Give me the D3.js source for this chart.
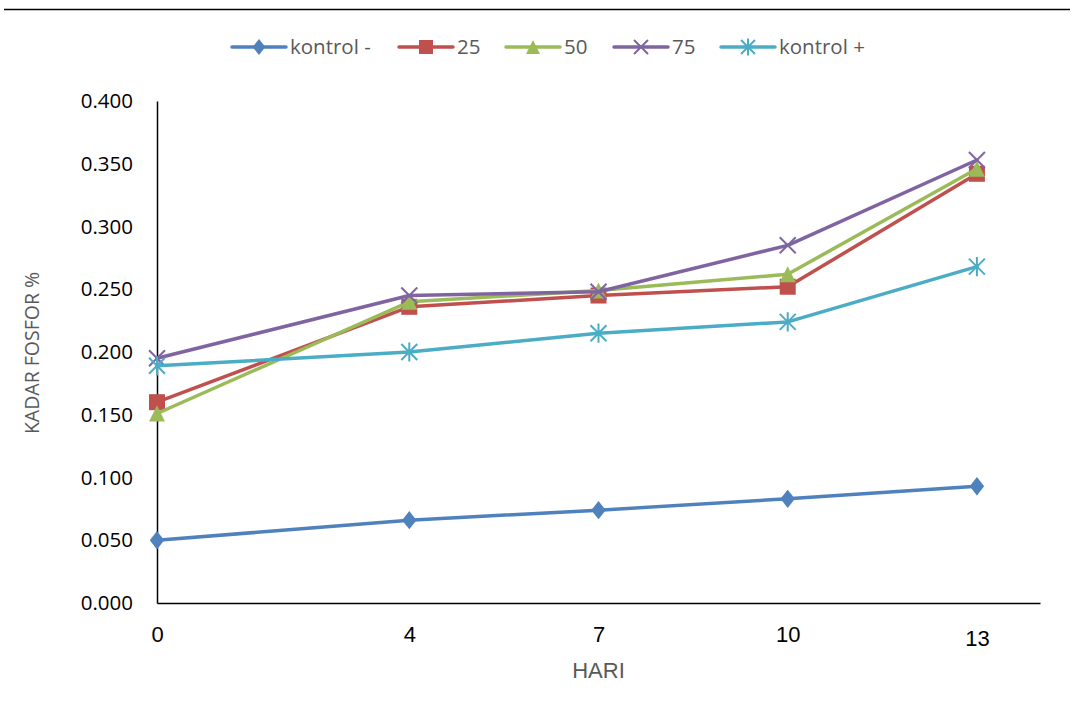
<!DOCTYPE html>
<html>
<head>
<meta charset="utf-8">
<script src="https://cdn.jsdelivr.net/npm/d3@7"></script>
<style>
  html, body { margin: 0; padding: 0; background: #fff; }
  svg { display: block; }
</style>
</head>
<body>
<svg id="chart" width="1073" height="715"></svg>
<script>
// Phosphorus content (%) over days, per treatment
const days = [0, 4, 7, 10, 13];
const kontrolMinus = [0.050, 0.066, 0.074, 0.083, 0.093];
const dose25 = [0.160, 0.236, 0.245, 0.252, 0.342];
const dose50 = [0.151, 0.240, 0.249, 0.262, 0.346];
const dose75 = [0.195, 0.245, 0.248, 0.285, 0.353];
const kontrolPlus = [0.189, 0.200, 0.215, 0.224, 0.268];
const seriesNames = ["kontrol -", "25", "50", "75", "kontrol +"];
const yTicks = [0, 0.05, 0.1, 0.15, 0.2, 0.25, 0.3, 0.35, 0.4];

const series = [
  { name: seriesNames[0], values: kontrolMinus, color: "#4F81BD", marker: "diamond" },
  { name: seriesNames[1], values: dose25, color: "#C0504D", marker: "square" },
  { name: seriesNames[2], values: dose50, color: "#9BBB59", marker: "triangle" },
  { name: seriesNames[3], values: dose75, color: "#8064A2", marker: "x" },
  { name: seriesNames[4], values: kontrolPlus, color: "#4BACC6", marker: "star" }
];

const svg = d3.select("#chart");

// rule across the top of the page
svg.append("line")
  .attr("x1", 4).attr("x2", 1070).attr("y1", 9.5).attr("y2", 9.5)
  .attr("stroke", "#000").attr("stroke-width", 1.5);

const x = d3.scaleLinear().domain([0, 14]).range([157, 1040]);
const y = d3.scaleLinear().domain([0, 0.4]).range([603, 101]);

// axes
const yAxis = svg.append("g")
  .attr("transform", `translate(${x(0)},0)`)
  .call(d3.axisLeft(y).tickValues(yTicks).tickSize(0).tickPadding(24)
    .tickFormat(d3.format(".3f")));
yAxis.select(".domain").attr("stroke", "#000").attr("stroke-width", 1.5);
yAxis.selectAll("text")
  .attr("font-family", "'Open Sans', sans-serif")
  .attr("font-size", 20.5)
  .attr("fill", "#000");

const xAxis = svg.append("g")
  .attr("transform", `translate(0,${y(0)})`)
  .call(d3.axisBottom(x).tickValues(days).tickSize(0).tickPadding(22)
    .tickFormat(d3.format("d")));
xAxis.select(".domain").attr("stroke", "#000").attr("stroke-width", 1.5);
xAxis.selectAll("text")
  .attr("font-family", "'Liberation Sans Narrow', 'Arial Narrow', sans-serif")
  .attr("font-size", 22)
  .attr("fill", "#000")
  .attr("dy", d => d === 13 ? "0.95em" : "0.75em");

// axis titles
svg.append("text")
  .attr("x", x(7)).attr("y", 678)
  .attr("text-anchor", "middle")
  .attr("font-family", "'Liberation Sans Narrow', 'Arial Narrow', sans-serif")
  .attr("font-size", 22)
  .attr("fill", "#595959")
  .text("HARI");

svg.append("text")
  .attr("transform", "translate(39,353) rotate(-90)")
  .attr("text-anchor", "middle")
  .attr("font-family", "'Open Sans', sans-serif")
  .attr("font-size", 19.5)
  .attr("fill", "#595959")
  .text("KADAR FOSFOR %");

// marker drawing
function drawMarker(g, type, color, s) {
  const h = s / 2;
  if (type === "diamond") {
    g.append("path").attr("d", `M0,${-h * 1.15}L${h * 0.9},0L0,${h * 1.15}L${-h * 0.9},0Z`).attr("fill", color);
  } else if (type === "square") {
    g.append("rect").attr("x", -h).attr("y", -h).attr("width", s).attr("height", s).attr("fill", color);
  } else if (type === "triangle") {
    g.append("path").attr("d", `M0,${-h}L${h},${h}L${-h},${h}Z`).attr("fill", color);
  } else if (type === "x") {
    g.append("path").attr("d", `M${-h},${-h}L${h},${h}M${-h},${h}L${h},${-h}`)
      .attr("stroke", color).attr("stroke-width", 2).attr("fill", "none");
  } else if (type === "star") {
    g.append("path").attr("d", `M${-h},${-h}L${h},${h}M${-h},${h}L${h},${-h}M0,${-h * 1.2}L0,${h * 1.2}`)
      .attr("stroke", color).attr("stroke-width", 2).attr("fill", "none");
  }
}

const line = d3.line().x(d => x(d[0])).y(d => y(d[1]));

series.forEach(s => {
  const pts = days.map((d, i) => [d, s.values[i]]);
  const g = svg.append("g");
  g.append("path")
    .attr("d", line(pts))
    .attr("fill", "none")
    .attr("stroke", s.color)
    .attr("stroke-width", 3.5)
    .attr("stroke-linejoin", "round")
    .attr("stroke-linecap", "round");
  pts.forEach(p => {
    const m = g.append("g").attr("transform", `translate(${x(p[0])},${y(p[1])})`);
    drawMarker(m, s.marker, s.color, 16);
  });
});

// legend
const legendX = [232, 399, 506, 614, 721];
const legend = svg.append("g");
series.forEach((s, i) => {
  const g = legend.append("g").attr("transform", `translate(${legendX[i]},47)`);
  g.append("line").attr("x1", 0).attr("x2", 54).attr("y1", 0).attr("y2", 0)
    .attr("stroke", s.color).attr("stroke-width", 3.5).attr("stroke-linecap", "round");
  const m = g.append("g").attr("transform", "translate(27,0)");
  drawMarker(m, s.marker, s.color, 14);
  g.append("text")
    .attr("x", 58).attr("y", 0).attr("dy", "0.35em")
    .attr("font-family", "'Open Sans', sans-serif")
    .attr("font-size", 20.5)
    .attr("fill", "#595959")
    .text(s.name);
});
</script>
</body>
</html>
